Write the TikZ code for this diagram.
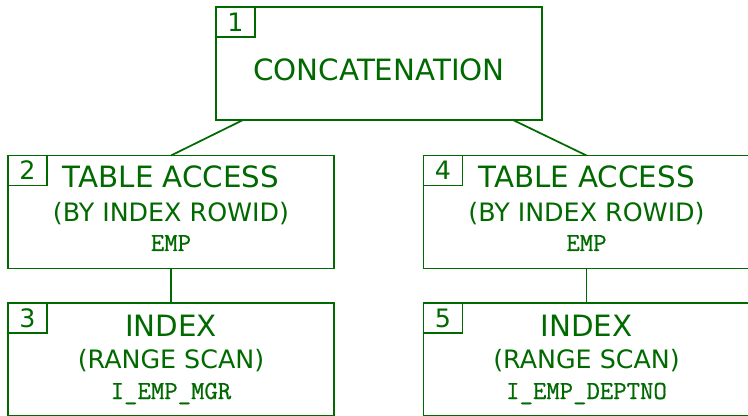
\documentclass[tikz,border=0pt]{standalone}
\usepackage{fontspec}
\setmainfont{DejaVu Sans}
\setmonofont[FakeBold=0.8]{Latin Modern Mono}
\definecolor{pg}{RGB}{0,105,0}
\begin{document}
\begin{tikzpicture}[x=0.75pt,y=-0.75pt,
  box/.style={draw=pg, line width=1.3pt, rectangle, minimum width=244.5pt, minimum height=84.75pt, anchor=north west, inner sep=0pt, outer sep=0pt},
  num/.style={draw=pg, line width=1.3pt, rectangle, minimum width=29.25pt, minimum height=22.5pt, anchor=north west, inner sep=0pt, outer sep=0pt, text=pg, font=\fontsize{19}{19}\selectfont},
  big/.style={text=pg, anchor=base, inner sep=0pt, font=\fontsize{22}{22}\selectfont},
  mid/.style={text=pg, anchor=base, inner sep=0pt, font=\fontsize{19}{19}\selectfont},
  code/.style={text=pg, anchor=base, inner sep=0pt, font=\ttfamily\fontsize{19.5}{19.5}\selectfont},
  conn/.style={draw=pg, line width=1.3pt}]
\useasboundingbox (0,0) rectangle (748,416);
% boxes
\node[box] (b1) at (216,7) {};
\node[box] (b2) at (8,155.5) {};
\node[box] (b3) at (8,303) {};
\node[box] (b4) at (423.5,155.5) {};
\node[box] (b5) at (423.5,303) {};
% number labels
\node[num] (n1) at (b1.north west) {1};
\node[num] (n2) at (b2.north west) {2};
\node[num] (n3) at (b3.north west) {3};
\node[num] (n4) at (b4.north west) {4};
\node[num] (n5) at (b5.north west) {5};
% texts
\node[big] (t1) at (379,81) {CONCATENATION};
\node[big] (t2a) at (171,188) {TABLE ACCESS};
\node[mid] (t2b) at (171,222) {(BY INDEX ROWID)};
\node[code] (t2c) at (171,251) {EMP};
\node[big] (t3a) at (171,336) {INDEX};
\node[mid] (t3b) at (171,368) {(RANGE SCAN)};
\node[code] (t3c) at (171,399) {I\_EMP\_MGR};
\node[big] (t4a) at (586.5,188) {TABLE ACCESS};
\node[mid] (t4b) at (586.5,222) {(BY INDEX ROWID)};
\node[code] (t4c) at (586.5,251) {EMP};
\node[big] (t5a) at (586.5,336) {INDEX};
\node[mid] (t5b) at (586.5,368) {(RANGE SCAN)};
\node[code] (t5c) at (586.5,399) {I\_EMP\_DEPTNO};
% connectors
\draw[conn] ([xshift=20.25pt]b1.south west) -- (b2.north);
\draw[conn] ([xshift=-21.75pt]b1.south east) -- (b4.north);
\draw[conn] (b2.south) -- (b3.north);
\draw[conn] (b4.south) -- (b5.north);
\end{tikzpicture}
\end{document}
